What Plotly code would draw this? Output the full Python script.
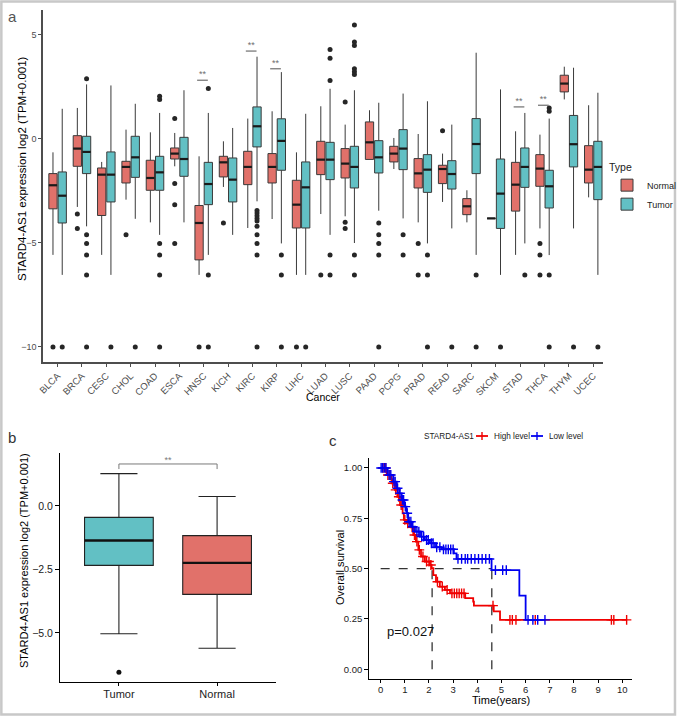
import numpy as np
import plotly.graph_objects as go

# ---------------- Panel a data ----------------
cancers = ["BLCA","BRCA","CESC","CHOL","COAD","ESCA","HNSC","KICH","KIRC","KIRP","LIHC","LUAD",
           "LUSC","PAAD","PCPG","PRAD","READ","SARC","SKCM","STAD","THCA","THYM","UCEC"]

normal_lo  = [-5.58,-3.28,-5.58,-2.93,-4.02,-1.33,-6.54,-2.32,-4.29,-3.86,-6.54,-3.62,-3.73,-1.00,-1.46,-4.02,-3.04,-4.02,-3.83,-5.58,-4.31, 1.88,-2.82]
normal_q1  = [-3.37,-1.33,-3.69,-2.13,-2.48,-0.98,-5.82,-1.84,-2.21,-2.13,-4.29,-1.73,-1.89,-1.00,-1.12,-2.37,-2.16,-3.65,-3.83,-3.48,-2.29, 2.24,-2.13]
normal_med = [-2.24,-0.48,-1.73,-1.36,-1.89,-0.72,-4.05,-1.14,-1.36,-1.36,-3.17,-1.01,-1.20,-0.18,-0.72,-1.67,-1.46,-3.25,-3.83,-2.21,-1.44, 2.64,-1.49]
normal_q3  = [-1.68, 0.14,-1.41,-1.09,-1.04,-0.45,-3.21,-0.85,-0.61,-0.72,-2.00,-0.13,-0.48, 0.80,-0.37,-0.96,-1.28,-2.88,-3.83,-1.14,-0.77, 3.04,-0.34]
normal_hi  = [-0.66, 1.47,-1.12, 0.43, 0.30, 0.27,-0.85,-0.13, 0.96, 1.31,-0.66, 1.55, 0.67, 1.36, 0.03, 0.22,-0.72,-2.48,-3.83, 0.35, 0.19, 3.45, 1.60]

tumor_lo  = [-6.54,-4.21,-6.54,-3.85,-4.62,-4.02,-5.58,-4.62,-3.01,-5.03,-6.54,-4.62,-5.01,-3.46,-3.83,-5.03,-4.31,-5.58,-6.54,-5.03,-5.59,-4.31,-6.54]
tumor_q1  = [-4.05,-1.68,-3.04,-1.86,-2.48,-1.81,-3.17,-3.04,-0.40,-1.52,-4.29,-1.97,-2.37,-1.65,-1.49,-2.58,-2.42,-1.68,-4.31,-2.34,-3.33,-1.36,-2.93]
tumor_med = [-2.74,-0.64,-1.73,-0.90,-1.62,-0.98,-2.18,-1.97, 0.59,-0.11,-2.34,-1.01,-1.36,-0.90,-0.48,-1.49,-1.70,-0.26,-2.64,-1.36,-2.29,-0.27,-1.36]
tumor_q3  = [-1.60, 0.11,-0.64, 0.11,-0.85, 0.06,-1.14,-0.93, 1.52, 0.95,-1.12,-0.18,-0.37,-0.10, 0.43,-0.77,-1.06, 0.96,-0.98,-0.45,-1.52, 1.11,-0.13]
tumor_hi  = [ 1.43, 2.60, 2.55, 1.67, 1.23, 2.32, 1.23, 0.51, 3.93, 3.19, 1.19, 2.39, 2.32, 1.72, 2.16, 1.79, 0.67, 4.12, 2.36, 1.23, 0.96, 3.40, 2.20]

normal_out_cat = ["BLCA","BRCA","BRCA","CHOL","ESCA","ESCA","ESCA","ESCA","HNSC","KICH","LIHC","LUAD",
                  "LUSC","LUSC","LUSC","PRAD","PRAD","READ","THCA","THCA","THCA"]
normal_out_val = [-10,-3.62,-4.31,-4.62,0.96,-2.16,-3.17,-5.03,-10,-4.05,-10,-6.54,
                  1.76,-4.02,-4.31,-5.03,-6.54,0.38,-5.03,-5.59,-6.54]

tumor_out_cat = ["BLCA",
                 "BRCA","BRCA","BRCA","BRCA","BRCA","BRCA",
                 "CESC","CHOL",
                 "COAD","COAD","COAD","COAD","COAD","COAD",
                 "HNSC","HNSC","HNSC",
                 "KIRC","KIRC","KIRC","KIRC","KIRC","KIRC","KIRC","KIRC","KIRC","KIRC",
                 "KIRP","KIRP","KIRP",
                 "LIHC",
                 "LUAD","LUAD","LUAD","LUAD","LUAD",
                 "LUSC","LUSC","LUSC","LUSC","LUSC","LUSC","LUSC","LUSC",
                 "PAAD","PAAD","PAAD","PAAD","PAAD",
                 "PCPG","PCPG",
                 "PRAD","PRAD","PRAD",
                 "READ","SARC","SARC","SKCM","STAD",
                 "THCA","THCA","THCA","THCA",
                 "THYM","UCEC"]
tumor_out_val = [-10,
                 2.87,-4.62,-5.03,-5.59,-6.54,-10,
                 -10,-10,
                 2.03,1.88,-5.03,-5.59,-6.54,-10,
                 2.40,-6.54,-10,
                 -3.45,-3.57,-3.70,-3.83,-3.96,-4.21,-4.62,-5.03,-5.58,-10,
                 -5.59,-6.54,-10,
                 -10,
                 4.28,3.85,2.79,-5.59,-6.54,
                 5.45,4.63,4.47,3.35,3.21,3.08,-5.59,-6.54,
                 -4.05,-4.62,-5.03,-5.59,-10,
                 -4.62,-5.59,
                 -5.59,-6.54,-10,
                 -10,-6.54,-10,-10,-6.54,
                 1.47,1.31,-6.54,-10,
                 -10,-10]

sig_cats = ["HNSC","KIRC","KIRP","STAD","THCA"]
sig_y    = [2.80, 4.20, 3.35, 1.52, 1.60]
sig_text = "**"

# ---------------- Panel b data ----------------
b_groups = ["Tumor", "Normal"]
b_lo  = [-5.03, -5.60]
b_q1  = [-2.34, -3.48]
b_med = [-1.36, -2.24]
b_q3  = [-0.45, -1.17]
b_hi  = [1.27, 0.37]
b_out_group = ["Tumor"]
b_out_val = [-6.54]
b_sig_y = 1.65
b_sig_tick = 1.45

# ---------------- Panel c data ----------------
high_t = [0, 0.25, 0.45, 0.59, 0.69, 0.80, 0.91, 0.96, 1.07, 1.24, 1.35, 1.46, 1.56, 1.67, 1.83,
          2.04, 2.11, 2.18, 2.29, 2.45, 2.66, 2.87, 3.50, 3.83, 3.86, 4.68, 4.94, 10.18]
high_s = [1.0, 0.965, 0.924, 0.891, 0.857, 0.816, 0.775, 0.742, 0.725, 0.705, 0.667, 0.634, 0.593, 0.56, 0.535,
          0.518, 0.502, 0.468, 0.435, 0.41, 0.394, 0.377, 0.353, 0.336, 0.316, 0.287, 0.245, 0.245]
low_t = [0, 0.29, 0.52, 0.66, 0.77, 0.87, 0.98, 1.07, 1.14, 1.28, 1.42, 1.63, 1.83, 2.04, 2.25, 2.52,
         3.03, 3.14, 4.59, 5.74, 6.0, 6.8]
low_s = [1.0, 0.965, 0.932, 0.899, 0.874, 0.841, 0.808, 0.775, 0.733, 0.708, 0.684, 0.659, 0.642, 0.626, 0.606, 0.596,
         0.576, 0.548, 0.492, 0.366, 0.245, 0.245]
high_cens = [0.1, 0.2, 0.3, 0.38, 0.5, 0.62, 0.75, 0.85, 1.0, 1.12, 1.3, 1.4, 1.5, 1.6, 1.75, 1.9, 2.0, 2.08,
             2.35, 2.55, 2.75, 2.95, 3.05, 3.15, 3.25, 3.35, 3.45, 4.65, 5.35, 5.45, 5.6, 6.4, 9.55, 9.65, 10.18]
low_cens = [0.02, 0.08, 0.15, 0.22, 0.35, 0.42, 0.55, 0.6, 0.7, 0.8, 0.9, 0.95, 1.02, 1.1, 1.18, 1.25, 1.33,
            1.5, 1.58, 1.7, 1.78, 1.9, 1.97, 2.1, 2.17, 2.32, 2.45, 2.6, 2.7, 2.8, 2.9, 3.0, 3.2, 3.35, 3.5,
            3.6, 3.75, 3.9, 4.05, 4.2, 4.35, 4.5, 4.75, 5.05, 5.2, 6.1, 6.3, 6.5, 6.8]
median_times = [2.13, 4.60]
p_text = "p=0.027"
km_legend_title = "STARD4-AS1"
km_groups = ["High level", "Low level"]

# ---------------- styling ----------------
W, H = 677, 716
FONT = "Liberation Sans, Arial, sans-serif"
C_NORMAL = "#E1716A"
C_TUMOR = "#62C0C4"
C_HIGH = "#F00000"
C_LOW = "#0000F0"
GREY_AX = "#4D4D4D"

def px(x):
    return x / W

def py(y):
    return 1 - y / H

fig = go.Figure()

# ---- panel a ----
idx = {c: i for i, c in enumerate(cancers)}
off, bw = 0.19, 0.34
n_pos = [i - off for i in range(len(cancers))]
t_pos = [i + off for i in range(len(cancers))]

for name, pos, lo, q1, med, q3, hi, col in [
    ("Normal", n_pos, normal_lo, normal_q1, normal_med, normal_q3, normal_hi, C_NORMAL),
    ("Tumor", t_pos, tumor_lo, tumor_q1, tumor_med, tumor_q3, tumor_hi, C_TUMOR),
]:
    fig.add_trace(go.Box(x=pos, lowerfence=lo, q1=q1, median=med, q3=q3, upperfence=hi,
                         width=bw, whiskerwidth=0, fillcolor=col,
                         line=dict(color="#3A3A3A", width=1), boxpoints=False,
                         name=name, legend="legend", xaxis="x", yaxis="y", hoverinfo="skip"))
    mx, my = [], []
    for p, m in zip(pos, med):
        mx += [p - bw / 2, p + bw / 2, None]
        my += [m, m, None]
    fig.add_trace(go.Scatter(x=mx, y=my, mode="lines", line=dict(color="#1A1A1A", width=2.2),
                             showlegend=False, xaxis="x", yaxis="y", hoverinfo="skip"))

fig.add_trace(go.Scatter(x=[idx[c] - off for c in normal_out_cat] + [idx[c] + off for c in tumor_out_cat],
                         y=normal_out_val + tumor_out_val, mode="markers",
                         marker=dict(color="#262626", size=5), showlegend=False,
                         xaxis="x", yaxis="y", hoverinfo="skip"))

sx, sy = [], []
for c, yv in zip(sig_cats, sig_y):
    i = idx[c]
    sx += [i - 0.27, i + 0.17, None]
    sy += [yv, yv, None]
fig.add_trace(go.Scatter(x=sx, y=sy, mode="lines", line=dict(color="#6E6E6E", width=1.2),
                         showlegend=False, xaxis="x", yaxis="y", hoverinfo="skip"))
fig.add_trace(go.Scatter(x=[idx[c] - 0.05 for c in sig_cats], y=[v + 0.24 for v in sig_y],
                         mode="text", text=[sig_text] * len(sig_cats),
                         textfont=dict(color="#6E6E6E", size=9, family=FONT),
                         showlegend=False, xaxis="x", yaxis="y", hoverinfo="skip"))

# ---- panel b ----
b_pos = [1, 2]
b_bw = 0.7
b_cols = [C_TUMOR, C_NORMAL]
for g, p, lo, q1, med, q3, hi, col in zip(b_groups, b_pos, b_lo, b_q1, b_med, b_q3, b_hi, b_cols):
    fig.add_trace(go.Box(x=[p], lowerfence=[lo], q1=[q1], median=[med], q3=[q3], upperfence=[hi],
                         width=b_bw, whiskerwidth=0.54, fillcolor=col,
                         line=dict(color="#222222", width=1.1), boxpoints=False,
                         showlegend=False, xaxis="x2", yaxis="y2", hoverinfo="skip"))
    fig.add_trace(go.Scatter(x=[p - b_bw / 2, p + b_bw / 2], y=[med, med], mode="lines",
                             line=dict(color="#111111", width=2.4), showlegend=False,
                             xaxis="x2", yaxis="y2", hoverinfo="skip"))
gpos = dict(zip(b_groups, b_pos))
fig.add_trace(go.Scatter(x=[gpos[g] for g in b_out_group], y=b_out_val, mode="markers",
                         marker=dict(color="#111111", size=5), showlegend=False,
                         xaxis="x2", yaxis="y2", hoverinfo="skip"))
fig.add_trace(go.Scatter(x=[b_pos[0], b_pos[0], b_pos[1], b_pos[1]],
                         y=[b_sig_tick, b_sig_y, b_sig_y, b_sig_tick], mode="lines",
                         line=dict(color="#7A7A7A", width=1), showlegend=False,
                         xaxis="x2", yaxis="y2", hoverinfo="skip"))
fig.add_trace(go.Scatter(x=[(b_pos[0] + b_pos[1]) / 2], y=[b_sig_y + 0.14], mode="text",
                         text=["**"], textfont=dict(color="#7A7A7A", size=9, family=FONT),
                         showlegend=False, xaxis="x2", yaxis="y2", hoverinfo="skip"))

# ---- panel c ----
def step_at(ts, ss, t):
    k = np.searchsorted(np.array(ts), t, side="right") - 1
    return float(np.array(ss)[k])

fig.add_trace(go.Scatter(x=[0, median_times[1], None, median_times[0], median_times[0], None,
                            median_times[1], median_times[1]],
                         y=[0.5, 0.5, None, 0, 0.5, None, 0, 0.5], mode="lines",
                         line=dict(color="#333333", width=1.3, dash="dash"), showlegend=False,
                         xaxis="x3", yaxis="y3", hoverinfo="skip"))
for ts, ss, cens, col in [(high_t, high_s, high_cens, C_HIGH), (low_t, low_s, low_cens, C_LOW)]:
    fig.add_trace(go.Scatter(x=ts, y=ss, mode="lines", line=dict(color=col, width=1.8, shape="hv"),
                             showlegend=False, xaxis="x3", yaxis="y3", hoverinfo="skip"))
    fig.add_trace(go.Scatter(x=cens, y=[step_at(ts, ss, t) for t in cens], mode="markers",
                             marker=dict(symbol="cross-thin", size=7, line=dict(color=col, width=1.4)),
                             showlegend=False, xaxis="x3", yaxis="y3", hoverinfo="skip"))

# ---------------- layout ----------------
ax_common = dict(showgrid=False, zeroline=False, showline=True, ticks="outside", automargin=False)
fig.update_layout(
    width=W, height=H, autosize=False,
    margin=dict(l=0, r=0, t=0, b=0, pad=0, autoexpand=False),
    paper_bgcolor="white", plot_bgcolor="white",
    font=dict(family=FONT, color="black"),
    xaxis=dict(**ax_common, domain=[px(43), px(603)], range=[-0.6, 22.4],
               tickvals=list(range(len(cancers))), ticktext=cancers, tickangle=-45,
               linecolor=GREY_AX, linewidth=1.5, tickcolor=GREY_AX, ticklen=3,
               tickfont=dict(size=9.5, color=GREY_AX), anchor="y"),
    yaxis=dict(**ax_common, domain=[py(362), py(10)], range=[-10.72, 6.17],
               tickvals=[-10, -5, 0, 5], linecolor=GREY_AX, linewidth=1.5, tickcolor=GREY_AX,
               ticklen=3, tickfont=dict(size=9, color=GREY_AX), anchor="x"),
    xaxis2=dict(**ax_common, domain=[px(60), px(276)], range=[0.4, 2.6], tickvals=b_pos,
                ticktext=b_groups, linecolor="black", linewidth=1, tickcolor="black", ticklen=3,
                ticklabelstandoff=-2,
                tickfont=dict(size=11, color="#222"), anchor="y2"),
    yaxis2=dict(**ax_common, domain=[py(682.3), py(453.3)], range=[-6.94, 2.07],
                tickvals=[-5, -2.5, 0], tickformat=".1f", linecolor="black", linewidth=1,
                tickcolor="black", ticklen=4, tickfont=dict(size=10.5, color="#222"), anchor="x2"),
    xaxis3=dict(**ax_common, domain=[px(369.3), px(631.7)], range=[-0.47, 10.39],
                tickvals=list(range(11)), linecolor="black", linewidth=1.2, tickcolor="black",
                ticklen=3, ticklabelstandoff=-2,
                tickfont=dict(size=9.5, color="#222"), anchor="y3"),
    yaxis3=dict(**ax_common, domain=[py(679.3), py(458.3)], range=[-0.05, 1.048],
                tickvals=[0, 0.25, 0.5, 0.75, 1.0], tickformat=".2f", linecolor="black",
                linewidth=1.2, tickcolor="black", ticklen=4, tickfont=dict(size=9.5, color="#222"),
                anchor="x3"),
    legend=dict(title=dict(text="Type", font=dict(size=10.5)), x=px(607), y=py(157),
                xanchor="left", yanchor="top", font=dict(size=9, color="#222"),
                bgcolor="rgba(0,0,0,0)", tracegroupgap=2, itemwidth=30),
    showlegend=True,
)

annos = [
    dict(text="a", x=px(12), y=py(17), font=dict(size=15, color="#555")),
    dict(text="b", x=px(12), y=py(437), font=dict(size=15, color="#333")),
    dict(text="c", x=px(333), y=py(440), font=dict(size=15, color="#333")),
    dict(text="Cancer", x=px(323), y=py(397), font=dict(size=10.5)),
    dict(text="STARD4-AS1 expression log2 (TPM+0.001)", x=px(22), y=py(169), textangle=-90,
         font=dict(size=11.5)),
    dict(text="STARD4-AS1 expression log2 (TPM+0.001)", x=px(24), y=py(561), textangle=-90,
         font=dict(size=11)),
    dict(text="Overall survival", x=px(340), y=py(568), textangle=-90, font=dict(size=11)),
    dict(text="Time(years)", x=px(501), y=py(700), font=dict(size=11)),
]
for a in annos:
    fig.add_annotation(xref="paper", yref="paper", showarrow=False, xanchor="center",
                       yanchor="middle", **a)
fig.add_annotation(text=p_text, x=0.18, y=0.187, xref="x3", yref="y3", showarrow=False,
                   xanchor="left", yanchor="middle", font=dict(size=13, color="#111"))

# ---- panel c legend (key samples + labels) ----
leg_y = py(436)
fig.add_annotation(text=km_legend_title, x=px(422), y=leg_y, xref="paper", yref="paper",
                   showarrow=False, xanchor="left", yanchor="middle", font=dict(size=8.2, color="#222"))
for (k_x, t_x), nm, col in zip([(476, 492), (531, 547)], km_groups, [C_HIGH, C_LOW]):
    fig.add_shape(type="line", xref="paper", yref="paper", x0=px(k_x), x1=px(k_x + 12),
                  y0=leg_y, y1=leg_y, line=dict(color=col, width=1.8))
    fig.add_shape(type="line", xref="paper", yref="paper", x0=px(k_x + 6), x1=px(k_x + 6),
                  y0=leg_y - 4 / H, y1=leg_y + 4 / H, line=dict(color=col, width=1.4))
    fig.add_annotation(text=nm, x=px(t_x), y=leg_y, xref="paper", yref="paper", showarrow=False,
                       xanchor="left", yanchor="middle", font=dict(size=8.2, color="#222"))

fig.add_shape(type="rect", xref="paper", yref="paper", x0=0.002, x1=0.997, y0=0.002, y1=0.998,
              line=dict(color="#C8C8C8", width=2.5), layer="above")

fig.write_html("out.html", config={"responsive": False})
